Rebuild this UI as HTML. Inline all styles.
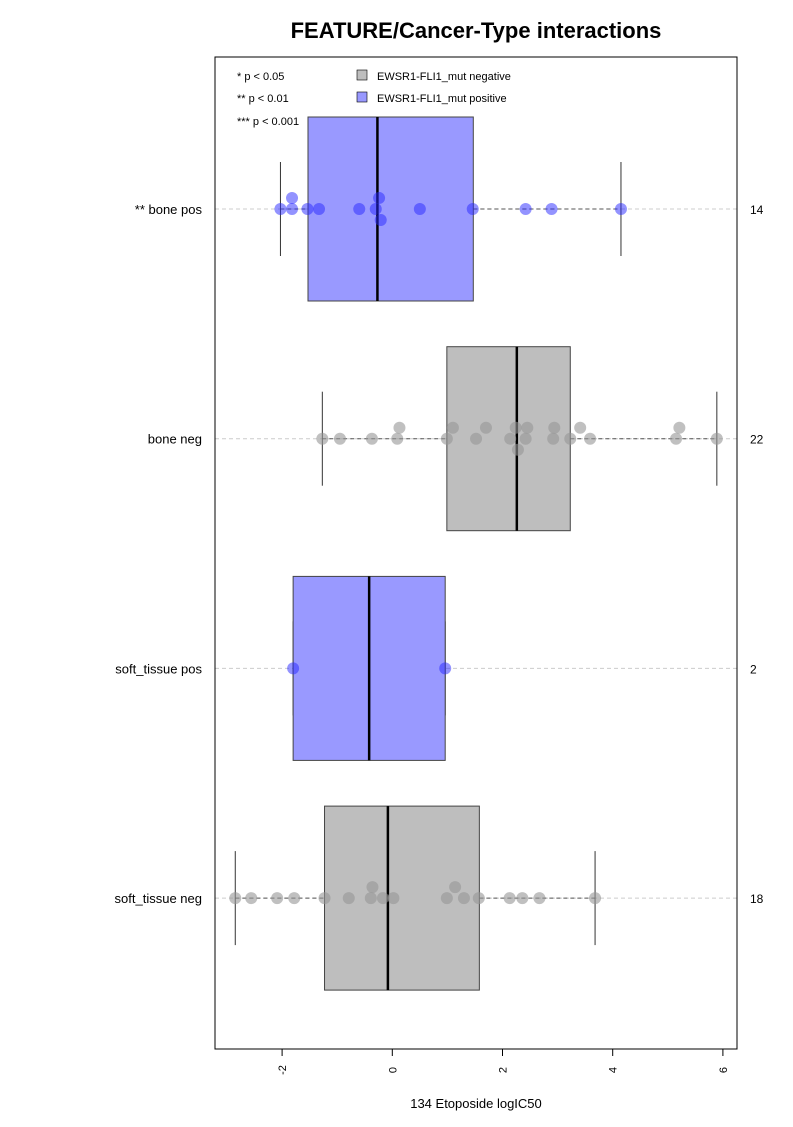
<!DOCTYPE html>
<html><head><meta charset="utf-8"><style>
body{margin:0;background:#fff;font-family:"Liberation Sans",Arial,sans-serif}
svg text{font-family:"Liberation Sans",Arial,sans-serif}
</style></head><body>
<svg width="793" height="1122" xmlns="http://www.w3.org/2000/svg" id="chart">
<text x="476" y="38" text-anchor="middle" font-size="22" font-weight="bold">FEATURE/Cancer-Type interactions</text>
<g id="marks"></g>
<rect x="215" y="57" width="522" height="992" fill="none" stroke="#000" stroke-width="1"/>
<g id="axis"></g>
<text x="476" y="1108" text-anchor="middle" font-size="13">134 Etoposide logIC50</text>
<g font-size="11">
<text x="237" y="80">* p &lt; 0.05</text>
<text x="237" y="102">** p &lt; 0.01</text>
<text x="237" y="125">*** p &lt; 0.001</text>
<rect x="357" y="70" width="10" height="10" fill="#bebebe" stroke="#000" stroke-width="0.6"/>
<text x="377" y="80">EWSR1-FLI1_mut negative</text>
<rect x="357" y="92" width="10" height="10" fill="#9999ff" stroke="#000" stroke-width="0.6"/>
<text x="377" y="102">EWSR1-FLI1_mut positive</text>
</g>
</svg>
<script>
const categories = ["** bone pos","bone neg","soft_tissue pos","soft_tissue neg"];
const counts = ["14","22","2","18"];
const positive = [true,false,true,false];
const values0 = [-2.03,-1.82,-1.82,-1.54,-1.33,-0.60,-0.30,-0.24,-0.21,0.50,1.46,2.42,2.89,4.15];
const values1 = [-1.27,-0.95,-0.37,0.09,0.13,0.99,1.10,1.52,1.70,2.14,2.24,2.28,2.42,2.45,2.92,2.94,3.23,3.41,3.59,5.15,5.21,5.89];
const values2 = [-1.80,0.96];
const values3 = [-2.85,-2.56,-2.09,-1.78,-1.23,-0.79,-0.39,-0.36,-0.17,0.02,0.99,1.14,1.30,1.57,2.13,2.36,2.67,3.68];
const q1s = [-1.53,0.99,-1.80,-1.23];
const medians = [-0.27,2.26,-0.42,-0.08];
const q3s = [1.47,3.23,0.96,1.58];
const whiskLo = [-2.03,-1.27,-1.80,-2.85];
const whiskHi = [4.15,5.89,0.96,3.68];
const xTicks = [-2,0,2,4,6];
const allValues = [values0,values1,values2,values3];

const NS="http://www.w3.org/2000/svg";
const xMin=-3.2178, xMax=6.2559;
function xs(v){return 215+(v-xMin)/(xMax-xMin)*522;}
function ys(i){return 209+i*229.7;}
const g=document.getElementById('marks');
function mk(tag,attrs,parent){const e=document.createElementNS(NS,tag);for(const k in attrs)e.setAttribute(k,attrs[k]);(parent||g).appendChild(e);return e;}
categories.forEach((c,i)=>{
  const y=ys(i);
  const grp=mk('g',{});
  
  
  const gl=mk('line',{x1:215,x2:737,y1:y,y2:y,stroke:'#ccc','stroke-dasharray':'4,3','stroke-width':1},grp);
  
  
  const w1=mk('line',{x1:xs(whiskLo[i]),x2:xs(q1s[i]),y1:y,y2:y,stroke:'#555','stroke-dasharray':'4,3'},grp);
  
  
  const w2=mk('line',{x1:xs(q3s[i]),x2:xs(whiskHi[i]),y1:y,y2:y,stroke:'#555','stroke-dasharray':'4,3'},grp);
  
  
  [whiskLo[i],whiskHi[i]].forEach(v=>{
    const cp=mk('line',{x1:xs(v),x2:xs(v),y1:y-47,y2:y+47,stroke:'#333'},grp);
    
    
  });
  const bx=mk('rect',{x:xs(q1s[i]),y:y-92,width:xs(q3s[i])-xs(q1s[i]),height:184,fill:positive[i]?'#9999ff':'#bebebe',stroke:'#444'},grp);
  
  
  const md=mk('line',{x1:xs(medians[i]),x2:xs(medians[i]),y1:y-92,y2:y+92,stroke:'#000','stroke-width':2.5},grp);
  
  
  // beeswarm
  const placed=[];
  allValues[i].forEach(v=>{
    const px=xs(v);let off=0;
    const cands=[0,-11,11,-22,22];
    for(const o of cands){if(placed.every(p=>Math.hypot(p[0]-px,p[1]-o)>=10)){off=o;break;}}
    placed.push([px,off]);
    const pt=mk('circle',{cx:px,cy:y+off,r:6,fill:positive[i]?'rgba(40,40,255,0.5)':'rgba(150,150,150,0.6)'},grp);
    
    
  });
  const lb=mk('text',{x:202,y:y+5,'text-anchor':'end','font-size':13},grp);
  lb.textContent=c;
  
  
  const ct=mk('text',{x:750,y:y+5,'font-size':12},grp);
  ct.textContent=counts[i];
  
  
});
const ax=document.getElementById('axis');
mk('line',{x1:xs(xTicks[0]),x2:xs(xTicks[xTicks.length-1]),y1:1049,y2:1049,stroke:'#000'},ax);
xTicks.forEach(t=>{
  const tk=mk('line',{x1:xs(t),x2:xs(t),y1:1049,y2:1056,stroke:'#000'},ax);
  
  
  const tl=mk('text',{x:0,y:0,'font-size':11,'text-anchor':'middle',transform:`translate(${xs(t)+4},1070) rotate(-90)`},ax);
  tl.textContent=String(t);
  
  
});
</script>
</body></html>
